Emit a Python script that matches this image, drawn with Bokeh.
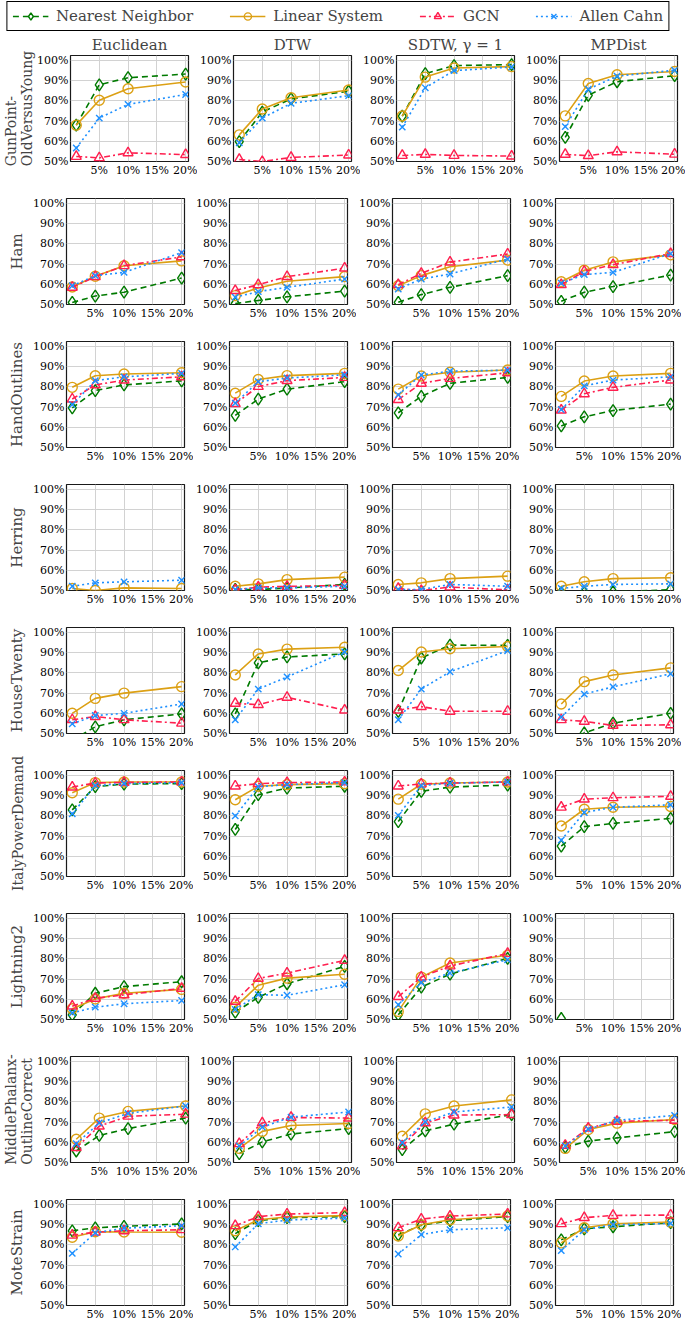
import numpy as np
from bokeh.plotting import figure
from bokeh.models import Range1d, FixedTicker, Title, Legend, LegendItem, ColumnDataSource
from bokeh.layouts import column, row
from bokeh.embed import file_html
from bokeh.resources import INLINE

# ---------------- data ----------------
x_fractions = [1, 5, 10, 20]
x_ticks = [5, 10, 15, 20]
x_tick_labels = ["5%", "10%", "15%", "20%"]
y_ticks = [50, 60, 70, 80, 90, 100]
y_tick_labels = ["50%", "60%", "70%", "80%", "90%", "100%"]

metrics = ["Euclidean", "DTW", "SDTW, γ = 1", "MPDist"]
datasets = ["GunPoint-\nOldVersusYoung", "Ham", "HandOutlines", "Herring", "HouseTwenty",
            "ItalyPowerDemand", "Lightning2", "MiddlePhalanx-\nOutlineCorrect", "MoteStrain"]
method_names = ["Nearest Neighbor", "Linear System", "GCN", "Allen Cahn"]

N = None
# each list: [Euclidean, DTW, SDTW, MPDist], values at x_fractions
gp_nn = [[68.0, 88.0, 91.5, 93.3], [59.8, 74.5, 81.0, 84.8], [72.5, 93.5, 97.5, 98.0], [62.0, 82.8, 89.5, 92.5]]
gp_ls = [[68.0, 80.3, 86.0, 89.4], [63.2, 76.0, 81.6, 85.4], [72.5, 91.8, 96.3, 97.0], [72.6, 88.6, 93.0, 94.6]]
gp_gcn = [[52.5, 51.8, 54.3, 53.4], [51.0, 50.0, 52.0, 53.2], [53.0, 53.5, 53.0, 52.7], [53.5, 52.9, 54.8, 53.6]]
gp_ac = [[56.7, 71.5, 78.3, 83.2], [59.3, 71.5, 78.8, 82.6], [67.0, 86.5, 95.0, 96.8], [67.3, 85.8, 92.3, 95.2]]

ham_nn = [[51.0, 54.2, 56.1, 63.1], [50.5, 52.0, 53.8, 56.6], [51.1, 54.9, 58.5, 64.3], [51.6, 56.1, 58.9, 64.6]]
ham_ls = [[58.7, 64.0, 69.2, 71.6], [54.4, 58.2, 61.5, 63.8], [59.3, 64.3, 68.7, 72.0], [61.3, 67.0, 71.1, 74.6]]
ham_gcn = [[58.5, 63.8, 69.2, 73.6], [56.9, 59.8, 63.8, 68.0], [59.8, 65.4, 71.0, 75.0], [59.8, 66.4, 69.7, 75.2]]
ham_ac = [[59.3, 64.3, 65.9, 75.7], [53.6, 56.4, 58.5, 62.6], [57.7, 62.6, 65.1, 72.5], [60.5, 64.8, 65.9, 75.2]]

ho_nn = [[69.6, 78.2, 81.0, 83.0], [65.9, 74.0, 78.9, 82.6], [67.2, 75.3, 81.8, 84.7], [60.7, 65.2, 68.3, 71.5]]
ho_ls = [[79.8, 85.5, 86.4, 87.0], [76.9, 83.7, 85.6, 86.7], [78.9, 85.4, 87.3, 88.4], [75.3, 82.9, 85.4, 86.7]]
ho_gcn = [[74.0, 81.0, 83.4, 85.0], [71.7, 80.2, 83.1, 84.7], [73.7, 81.8, 84.2, 87.0], [68.5, 76.6, 79.8, 83.4]]
ho_ac = [[71.2, 83.1, 85.0, 86.7], [72.0, 82.6, 84.4, 86.0], [76.1, 85.9, 87.8, 88.3], [68.8, 80.5, 83.4, 85.0]]

he_nn = [[N, N, N, N], [50.5, 50.5, 51.2, 53.0], [N, N, N, N], [49.0, 49.0, 49.3, 50.4]]
he_ls = [[51.0, 50.0, 51.3, 51.0], [52.1, 53.3, 55.4, 56.6], [53.0, 53.8, 55.9, 57.1], [52.1, 54.3, 55.9, 56.3]]
he_gcn = [[N, N, N, N], [50.3, 51.7, 52.0, 52.5], [51.0, 50.0, 51.7, 50.3], [N, N, N, N]]
he_ac = [[52.1, 53.8, 54.3, 55.1], [50.5, 51.3, 51.3, 52.1], [50.5, 50.5, 53.0, 52.1], [51.0, 52.1, 53.0, 53.3]]

ht_nn = [[46.7, 53.3, 56.8, 59.7], [59.7, 85.0, 87.9, 89.4], [61.0, 87.4, 93.8, 93.6], [45.0, 50.3, 55.1, 60.0]]
ht_ls = [[60.0, 67.4, 70.0, 73.2], [79.0, 89.4, 91.8, 92.7], [81.2, 90.4, 92.0, 93.1], [64.6, 75.7, 79.0, 82.5]]
ht_gcn = [[56.8, 58.4, 56.8, 55.1], [64.9, 64.3, 67.9, 61.6], [61.6, 63.3, 61.0, 61.0], [56.8, 56.0, 54.0, 54.3]]
ht_ac = [[54.8, 58.9, 60.0, 64.6], [56.8, 72.0, 78.0, 90.4], [56.8, 72.0, 80.6, 91.0], [58.1, 69.5, 73.1, 79.6]]

ipd_nn = [[83.0, 94.5, 95.8, 96.0], [73.3, 90.5, 93.8, 94.7], [77.2, 92.2, 94.3, 95.3], [65.0, 74.7, 76.3, 78.8]]
ipd_ls = [[91.5, 96.5, 96.8, 96.8], [88.0, 94.7, 95.5, 96.0], [88.3, 95.7, 96.3, 96.8], [75.0, 83.3, 84.3, 84.7]]
ipd_gcn = [[94.3, 96.3, 96.6, 96.8], [94.8, 96.0, 96.5, 96.8], [94.8, 95.8, 96.3, 96.8], [84.3, 88.3, 89.0, 89.7]]
ipd_ac = [[81.0, 95.0, 96.0, 96.5], [80.0, 94.5, 95.5, 96.5], [80.3, 95.0, 96.2, 96.8], [68.0, 81.7, 84.3, 85.5]]

l2_nn = [[52.3, 63.0, 66.3, 68.7], [53.6, 61.0, 67.7, 76.3], [52.3, 66.0, 72.5, 80.3], [50.5, N, N, N]]
l2_ls = [[55.3, 60.2, 63.0, 64.9], [56.1, 67.0, 70.5, 72.4], [54.0, 71.0, 78.0, 81.8], [N, N, N, N]]
l2_gcn = [[56.6, 60.5, 62.2, 65.4], [59.0, 70.3, 73.0, 79.3], [61.3, 71.0, 76.5, 82.7], [N, N, N, N]]
l2_ac = [[53.3, 56.1, 57.8, 59.4], [55.0, 62.3, 62.0, 67.2], [57.3, 68.3, 73.0, 79.6], [N, N, N, N]]

mp_nn = [[55.7, 63.4, 66.8, 72.0], [54.4, 60.2, 64.1, 66.8], [56.4, 65.7, 69.0, 73.7], [57.6, 60.6, 62.2, 65.3]]
mp_ls = [[61.5, 72.0, 75.3, 78.0], [57.0, 65.4, 68.3, 69.3], [63.0, 74.1, 78.0, 81.0], [57.0, 66.3, 69.5, 71.3]]
mp_gcn = [[57.4, 68.0, 72.9, 73.9], [59.3, 69.6, 72.3, 72.0], [58.2, 69.6, 73.5, 73.7], [58.5, 67.0, 70.4, 70.9]]
mp_ac = [[59.3, 69.6, 74.3, 78.0], [58.2, 67.5, 72.5, 75.0], [59.8, 70.1, 75.0, 77.5], [58.2, 66.5, 70.9, 73.3]]

ms_nn = [[87.0, 88.5, 89.2, 90.4], [85.6, 92.0, 93.5, 94.0], [85.0, 89.8, 92.0, 94.0], [82.5, 88.0, 89.0, 91.0]]
ms_ls = [[83.8, 86.5, 86.4, 86.3], [87.0, 92.5, 93.8, 94.5], [84.4, 90.0, 92.5, 94.3], [81.0, 88.5, 90.5, 91.3]]
ms_gcn = [[84.8, 86.3, 87.0, 87.5], [89.5, 94.0, 95.3, 96.0], [88.5, 92.8, 94.3, 95.3], [90.5, 93.5, 94.6, 94.8]]
ms_ac = [[75.8, 86.0, 88.3, 89.5], [79.0, 90.5, 92.3, 93.3], [75.5, 85.1, 87.5, 88.5], [77.2, 87.5, 90.0, 90.7]]

results = [
    [gp_nn, gp_ls, gp_gcn, gp_ac],
    [ham_nn, ham_ls, ham_gcn, ham_ac],
    [ho_nn, ho_ls, ho_gcn, ho_ac],
    [he_nn, he_ls, he_gcn, he_ac],
    [ht_nn, ht_ls, ht_gcn, ht_ac],
    [ipd_nn, ipd_ls, ipd_gcn, ipd_ac],
    [l2_nn, l2_ls, l2_gcn, l2_ac],
    [mp_nn, mp_ls, mp_gcn, mp_ac],
    [ms_nn, ms_ls, ms_gcn, ms_ac],
]

# ---------------- styles ----------------
FONT = "DejaVu Serif"
styles = [
    dict(color="#007a00", dash="6 4", marker="diamond", size=12),
    dict(color="#dca014", dash="solid", marker="circle", size=10),
    dict(color="#ff1f4f", dash="6 3 2 3", marker="triangle", size=10),
    dict(color="#1e90ff", dash="2 3", marker="x", size=9),
]


def draw_series(p, xs, ys, st):
    src = ColumnDataSource(data=dict(x=xs, y=ys))
    lr = p.line("x", "y", source=src, line_color=st["color"], line_width=1.6,
                line_dash=st["dash"])
    sr = p.scatter("x", "y", source=src, marker=st["marker"], size=st["size"],
                   line_color=st["color"], line_width=1.4, fill_alpha=0)
    return lr, sr


# ---------------- legend figure ----------------
lf = figure(frame_width=675, frame_height=31, x_range=Range1d(0, 1), y_range=Range1d(0, 1),
            x_axis_type=None, y_axis_type=None, output_backend="svg",
            toolbar_location=None, min_border=0, outline_line_color=None)
items = []
for name, st in zip(method_names, styles):
    lr, sr = draw_series(lf, [np.nan], [np.nan], st)
    items.append(LegendItem(label=name, renderers=[lr, sr]))
leg = Legend(items=items, orientation="horizontal", location="center", margin=0,
             padding=5, spacing=36, glyph_width=36, glyph_height=18, label_height=18,
             label_standoff=8, label_text_font=FONT, label_text_font_size="15px",
             border_line_color="black", border_line_width=1, border_line_alpha=1,
             background_fill_color="white", background_fill_alpha=1)
lf.add_layout(leg, "center")

# ---------------- grid of plots ----------------
FW, FH = 118, 106
layout_rows = [lf]
for r, ds in enumerate(datasets):
    figs = []
    for c, metric in enumerate(metrics):
        p = figure(frame_width=FW, frame_height=FH,
                   x_range=Range1d(0, 20.5), y_range=Range1d(50, 102.5),
                   output_backend="svg", toolbar_location=None,
                   min_border_left=66 if c == 0 else 34,
                   min_border_right=9 if c < 3 else 8,
                   min_border_top=24 if r == 0 else 19,
                   min_border_bottom=18,
                   title=metric if r == 0 else None)
        if r == 0:
            p.title.align = "center"
            p.title.text_font = FONT
            p.title.text_font_size = "15px"
            p.title.text_font_style = "normal"
            p.title.standoff = 3
        p.xaxis.ticker = FixedTicker(ticks=x_ticks)
        p.yaxis.ticker = FixedTicker(ticks=y_ticks)
        p.xaxis.major_label_overrides = dict(zip(x_ticks, x_tick_labels))
        p.yaxis.major_label_overrides = dict(zip(y_ticks, y_tick_labels))
        for ax in (p.xaxis[0], p.yaxis[0]):
            ax.axis_line_color = None
            ax.major_tick_line_color = None
            ax.minor_tick_line_color = None
            ax.major_tick_out = 0
            ax.major_tick_in = 0
            ax.minor_tick_out = 0
            ax.major_label_standoff = 2
            ax.major_label_text_font = FONT
            ax.major_label_text_font_size = "11px"
            ax.major_label_text_color = "black"
        p.xgrid.ticker = FixedTicker(ticks=x_ticks)
        p.ygrid.ticker = FixedTicker(ticks=y_ticks)
        p.grid.grid_line_color = "#d2d2d2"
        p.grid.grid_line_width = 1
        p.outline_line_color = "#1a1a1a"
        p.outline_line_width = 1.2
        if c == 0:
            two = "\n" in ds
            big = len(ds) > 14 and not two
            t = Title(text=ds, align="center", text_font=FONT,
                      text_font_size="14px" if (two or big) else "15px",
                      text_font_style="normal", standoff=0 if two else 10,
                      text_line_height=1.0)
            p.add_layout(t, "left")
        for m, st in enumerate(styles):
            ys = np.array(results[r][m][c], dtype=float)
            draw_series(p, x_fractions, ys, st)
        figs.append(p)
    layout_rows.append(row(*figs))

layout = column(*layout_rows)
open("out.html", "w").write(file_html(layout, INLINE))
